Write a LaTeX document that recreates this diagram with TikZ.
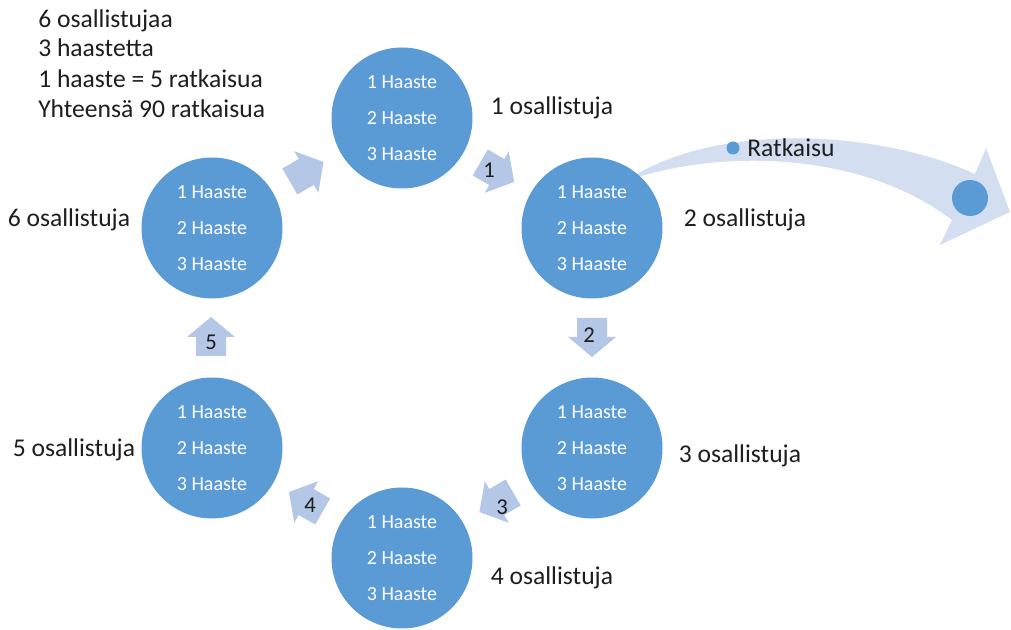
\documentclass[tikz,border=0pt]{standalone}
\usepackage{fontspec}
\setmainfont{Carlito}
\definecolor{disc}{HTML}{5B9BD5}
\definecolor{chev}{HTML}{B4C7E7}
\definecolor{sweep}{HTML}{D3DFF0}
\definecolor{ink}{HTML}{1E1E1E}
\begin{document}
\begin{tikzpicture}[x=0.75pt,y=-0.75pt,
  stage/.style={circle, fill=disc, minimum size=105.75pt, inner sep=0pt,
    text=white, align=center, font=\fontsize{15}{27}\selectfont},
  tally/.style={inner sep=0pt, text=ink, font=\fontsize{19.2}{22}\selectfont},
  stepnum/.style={inner sep=0pt, text=ink, font=\fontsize{17}{20}\selectfont},
  dot/.style={circle, fill=disc, inner sep=0pt},
  blockarrow/.pic={\fill[chev] (-19,-15) -- (0,-15) -- (0,-24) -- (20,0)
    -- (0,24) -- (0,15) -- (-19,15) -- cycle;}
]
\useasboundingbox (0,0) rectangle (1011,630);

% sweeping arrow leaving the second stage
\fill[sweep] (632,177) .. controls (720,122) and (880,130) .. (975,174)
  -- (986,148) -- (1010,212) -- (940,245) -- (952,220)
  .. controls (860,150) and (720,150) .. (632,179) -- cycle;
\node[dot, minimum size=27pt] (drop) at (970,198) {};
\node[dot, minimum size=9.75pt] (solmark) at (733,148) {};
\node[tally, anchor=west] (sol) at (747,148) {Ratkaisu};

% stages of the cycle
\node[stage] (c1) at (402,118) {1 Haaste\\2 Haaste\\3 Haaste};
\node[stage] (c2) at (592,228) {1 Haaste\\2 Haaste\\3 Haaste};
\node[stage] (c3) at (592,448) {1 Haaste\\2 Haaste\\3 Haaste};
\node[stage] (c4) at (402,558) {1 Haaste\\2 Haaste\\3 Haaste};
\node[stage] (c5) at (212,448) {1 Haaste\\2 Haaste\\3 Haaste};
\node[stage] (c6) at (212,228) {1 Haaste\\2 Haaste\\3 Haaste};

% block arrows between the stages
\pic[rotate=-30] at (496.75,172) {blockarrow};
\pic[rotate=-90] at (592,337) {blockarrow};
\pic[rotate=-150] at (496.75,502) {blockarrow};
\pic[rotate=150] at (306.25,502) {blockarrow};
\pic[rotate=90] at (211,337) {blockarrow};
\pic[rotate=30] at (306.25,172) {blockarrow};

\node[stepnum] (n1) at (489,170) {1};
\node[stepnum] (n2) at (589,335) {2};
\node[stepnum] (n3) at (502,507) {3};
\node[stepnum] (n4) at (310,505) {4};
\node[stepnum] (n5) at (211,342) {5};

% participant counts
\node[tally] (p1) at (552,108) {1 osallistuja};
\node[tally] (p2) at (745,220) {2 osallistuja};
\node[tally] (p3) at (740,456) {3 osallistuja};
\node[tally] (p4) at (552,578) {4 osallistuja};
\node[tally] (p5) at (74,450) {5 osallistuja};
\node[tally] (p6) at (69,220) {6 osallistuja};

% summary
\node[tally, anchor=base west] (s1) at (38,28) {6 osallistujaa};
\node[tally, anchor=base west] (s2) at (38,57) {3 haastetta};
\node[tally, anchor=base west] (s3) at (38,88) {1 haaste = 5 ratkaisua};
\node[tally, anchor=base west] (s4) at (38,118) {Yhteensä 90 ratkaisua};
\end{tikzpicture}
\end{document}
